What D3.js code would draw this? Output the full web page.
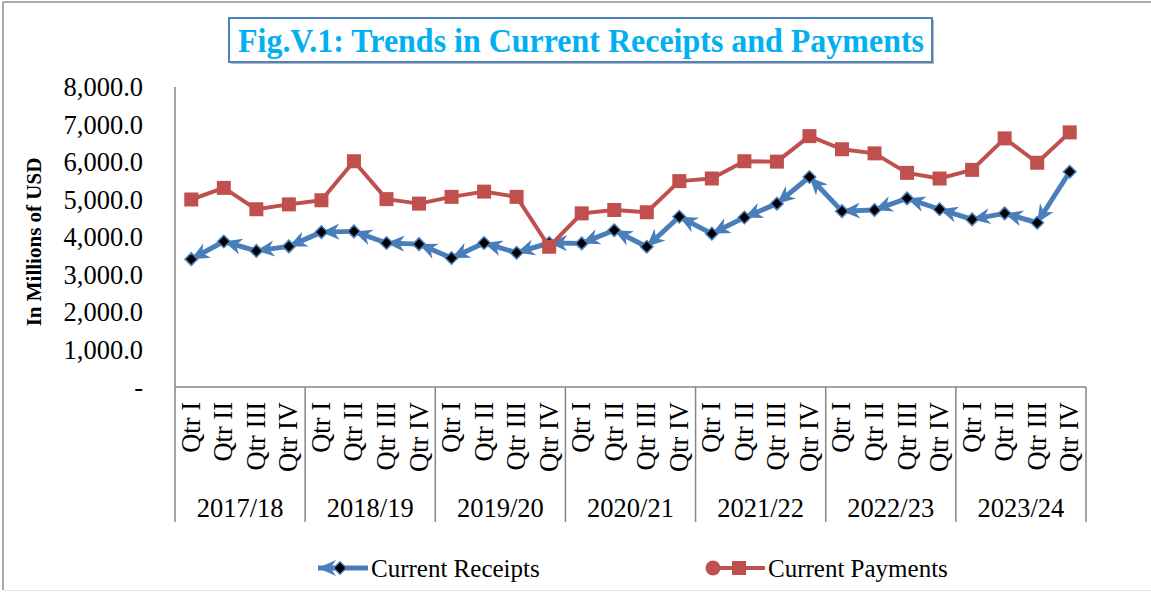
<!DOCTYPE html>
<html lang="en">
<head>
    <meta charset="UTF-8">
    <title>Fig.V.1: Trends in Current Receipts and Payments</title>
    <style>
        body {
            margin: 0;
            background: white;
        }
        text {
            font-family: "Liberation Serif", "Times New Roman", serif;
        }
    </style>
    <script src="https://d3js.org/d3.v7.min.js"></script>
</head>
<body>
    <div id="chart"></div>

    <script>
        // chart data
        const years = ["2017/18", "2018/19", "2019/20", "2020/21", "2021/22", "2022/23", "2023/24"];
        const quarters = ["Qtr I", "Qtr II", "Qtr III", "Qtr IV"];
        const receipts = [
            3410, 3880, 3630, 3750,
            4130, 4150, 3840, 3810,
            3440, 3840, 3580, 3840,
            3830, 4180, 3740, 4540,
            4090, 4520, 4890, 5600,
            4690, 4720, 5030, 4740,
            4470, 4630, 4380, 5740
        ];
        const payments = [
            5000, 5310, 4740, 4870,
            4980, 6020, 5010, 4890,
            5070, 5210, 5070, 3740,
            4630, 4720, 4660, 5490,
            5560, 6020, 6010, 6690,
            6340, 6230, 5710, 5560,
            5790, 6630, 5980, 6790
        ];
        const yTicks = [0, 1000, 2000, 3000, 4000, 5000, 6000, 7000, 8000];

        const width = 1151, height = 592;
        const blue = "#4a7ebb", red = "#c0504d", axisGrey = "#868686";

        const svg = d3.select("#chart").append("svg")
            .attr("width", width)
            .attr("height", height);

        // outer frame
        svg.append("line").attr("x1", 3).attr("x2", 3).attr("y1", 2).attr("y2", 590)
            .attr("stroke", "#8c8c8c").attr("stroke-width", 1.5);
        svg.append("line").attr("x1", 3).attr("x2", width).attr("y1", 2).attr("y2", 2)
            .attr("stroke", "#8c8c8c").attr("stroke-width", 1.5);
        svg.append("line").attr("x1", 3).attr("x2", width).attr("y1", 590.5).attr("y2", 590.5)
            .attr("stroke", "#e4e4e4").attr("stroke-width", 1);

        // title box
        svg.append("rect").attr("x", 231).attr("y", 20).attr("width", 703).attr("height", 44)
            .attr("fill", "#b8b8b8");
        svg.append("rect").attr("x", 229).attr("y", 18).attr("width", 703).attr("height", 44)
            .attr("fill", "white").attr("stroke", "#4f81bd").attr("stroke-width", 2);
        svg.append("text")
            .attr("x", 238).attr("y", 52)
            .attr("textLength", 686)
            .attr("lengthAdjust", "spacingAndGlyphs")
            .attr("font-size", 34)
            .attr("font-weight", "bold")
            .attr("fill", "#00b0f0")
            .text("Fig.V.1: Trends in Current Receipts and Payments");

        // scales
        const cats = [];
        years.forEach(y => quarters.forEach(q => cats.push(y + "|" + q)));

        const x = d3.scaleBand().domain(cats).range([175, 1086]);
        const y = d3.scaleLinear().domain([0, 8000]).range([387, 87]);
        const cx = i => x(cats[i]) + x.bandwidth() / 2;

        // y axis labels
        svg.selectAll(".ytick")
            .data(yTicks)
            .enter().append("text")
            .attr("class", "ytick")
            .attr("x", 143)
            .attr("y", d => y(d))
            .attr("dy", "0.35em")
            .attr("text-anchor", "end")
            .attr("font-size", 26.5)
            .text(d => d === 0 ? "-" : d3.format(",.1f")(d));

        svg.append("text")
            .attr("transform", "translate(41,242) rotate(-90)")
            .attr("text-anchor", "middle")
            .attr("font-size", 21)
            .attr("font-weight", "bold")
            .text("In Millions of USD");

        // axes lines
        svg.append("line").attr("x1", 175).attr("x2", 175).attr("y1", 87).attr("y2", 522)
            .attr("stroke", axisGrey).attr("stroke-width", 1.5);
        svg.append("line").attr("x1", 175).attr("x2", 1086).attr("y1", 387).attr("y2", 387)
            .attr("stroke", axisGrey).attr("stroke-width", 1.5);

        // year dividers and labels
        years.forEach((yr, i) => {
            const right = x(yr + "|" + quarters[3]) + x.bandwidth();
            svg.append("line").attr("x1", right).attr("x2", right).attr("y1", 387).attr("y2", 522)
                .attr("stroke", axisGrey).attr("stroke-width", 1.5);
            const left = x(yr + "|" + quarters[0]);
            svg.append("text")
                .attr("x", (left + right) / 2)
                .attr("y", 517)
                .attr("text-anchor", "middle")
                .attr("font-size", 26.5)
                .text(yr);
        });

        // quarter labels
        svg.selectAll(".qtr")
            .data(cats)
            .enter().append("text")
            .attr("class", "qtr")
            .attr("transform", (d, i) => `translate(${cx(i) + 8.5},402) rotate(-90)`)
            .attr("text-anchor", "end")
            .attr("font-size", 26.5)
            .text(d => d.split("|")[1]);

        // arrow marker for receipts
        const defs = svg.append("defs");
        defs.append("marker")
            .attr("id", "arrow")
            .attr("viewBox", "0 0 20 20")
            .attr("refX", 20).attr("refY", 10)
            .attr("markerWidth", 20).attr("markerHeight", 18)
            .attr("markerUnits", "userSpaceOnUse")
            .attr("orient", "auto-start-reverse")
            .append("path")
            .attr("d", "M0,1 L20,10 L0,19 L6,10 Z")
            .attr("fill", blue);

        // current receipts
        const recPts = receipts.map((v, i) => [cx(i), y(v)]);
        const segs = d3.pairs(recPts);
        svg.selectAll(".rseg")
            .data(segs)
            .enter().append("path")
            .attr("class", "rseg")
            .attr("d", d => d3.line()(d))
            .attr("fill", "none")
            .attr("stroke", blue)
            .attr("stroke-width", 5)
            .attr("marker-start", "url(#arrow)");

        const diamond = d3.symbol().type(d3.symbolDiamond2).size(100);
        svg.selectAll(".rpt")
            .data(recPts)
            .enter().append("path")
            .attr("class", "rpt")
            .attr("transform", d => `translate(${d[0]},${d[1]})`)
            .attr("d", diamond)
            .attr("fill", "black")
            .attr("stroke", blue)
            .attr("stroke-width", 1.5);

        // current payments
        const payLine = d3.line()
            .x((d, i) => cx(i))
            .y(d => y(d));
        svg.append("path")
            .datum(payments)
            .attr("d", payLine)
            .attr("fill", "none")
            .attr("stroke", red)
            .attr("stroke-width", 4)
            .attr("stroke-linejoin", "round");

        svg.selectAll(".ppt")
            .data(payments)
            .enter().append("rect")
            .attr("class", "ppt")
            .attr("x", (d, i) => cx(i) - 7)
            .attr("y", d => y(d) - 7)
            .attr("width", 14)
            .attr("height", 14)
            .attr("fill", red);

        // legend
        const ly = 568;
        svg.append("path")
            .attr("d", d3.line()([[368, ly], [318, ly]]))
            .attr("stroke", blue).attr("stroke-width", 5).attr("fill", "none")
            .attr("marker-end", "url(#arrow)");
        svg.append("path")
            .attr("transform", `translate(340,${ly})`)
            .attr("d", diamond)
            .attr("fill", "black").attr("stroke", blue).attr("stroke-width", 1.5);
        svg.append("text").attr("x", 371).attr("y", ly).attr("dy", "0.35em")
            .attr("font-size", 25).text("Current Receipts");

        svg.append("line").attr("x1", 713).attr("x2", 765).attr("y1", ly).attr("y2", ly)
            .attr("stroke", red).attr("stroke-width", 4);
        svg.append("circle").attr("cx", 713).attr("cy", ly).attr("r", 7.5).attr("fill", red);
        svg.append("rect").attr("x", 732).attr("y", ly - 7).attr("width", 14).attr("height", 14)
            .attr("fill", red);
        svg.append("text").attr("x", 768).attr("y", ly).attr("dy", "0.35em")
            .attr("font-size", 25).text("Current Payments");
    </script>
</body>
</html>
